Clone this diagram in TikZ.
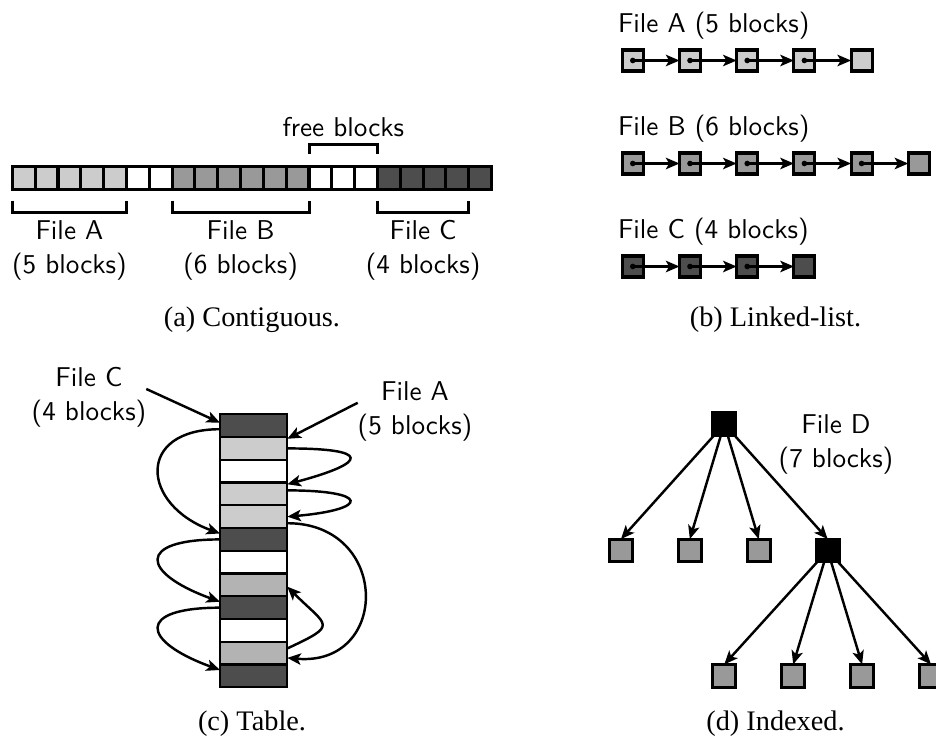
\documentclass[tikz,border=0pt]{standalone}
\usepackage{fontspec}
\newfontfamily\capfont{Liberation Serif}
\usetikzlibrary{positioning, calc, arrows.meta}

\begin{document}
\begin{tikzpicture}[x=0.3676pt,y=0.3676pt,
  blockCell/.style={draw=black,line width=1.15pt,minimum size=8.39pt,inner sep=0pt,outer sep=0pt},
  listBox/.style={draw=black,line width=1.15pt,minimum size=7.72pt,inner sep=0pt,outer sep=0pt},
  tabRow/.style={draw=black,line width=0.85pt,minimum width=24.74pt,minimum height=8.36pt,inner sep=0pt,outer sep=0pt},
  braceLine/.style={draw=black,line width=1.1pt},
  ptrArrow/.style={line width=0.9pt,-{Stealth[length=5pt,width=4.2pt,inset=1.2pt]}},
  sansLabel/.style={font=\sffamily\fontsize{10}{12.5}\selectfont,align=center,inner sep=0pt,outer sep=0pt},
  capText/.style={font=\capfont\fontsize{10.4}{12}\selectfont,inner sep=0pt,anchor=base}]
\definecolor{liteColor}{RGB}{204,204,204}
\definecolor{midColor}{RGB}{153,153,153}
\definecolor{tableColor}{RGB}{179,179,179}
\definecolor{darkColor}{RGB}{77,77,77}
\path[use as bounding box] (0,0) rectangle (936,735);

% (a) contiguous
\foreach \c [count=\i from 0] in {liteColor,liteColor,liteColor,liteColor,liteColor,white,white,midColor,midColor,midColor,midColor,midColor,midColor,white,white,white,darkColor,darkColor,darkColor,darkColor,darkColor}
  \node[blockCell,fill=\c] (a\i) at ({23.76+22.82*\i},557.3) {};

\draw[braceLine] (a0.south west) ++(0,-11.6) -- ++(0,-11.3) -| ($(a4.south east)+(0,-11.6)$);
\draw[braceLine] (a7.south west) ++(0,-11.6) -- ++(0,-11.3) -| ($(a12.south east)+(0,-11.6)$);
\draw[braceLine] (a16.south west) ++(0,-11.6) -- ++(0,-11.3) -| ($(a19.south east)+(0,-11.6)$);
\draw[braceLine] (a13.north west) ++(0,12.3) -- ++(0,9.3) -| ($(a15.north east)+(0,12.3)$);

\node[sansLabel,anchor=north] (fileA) at (69.4,514.6) {File A\\(5 blocks)};
\node[sansLabel,anchor=north] (fileB) at (240.6,514.6) {File B\\(6 blocks)};
\node[sansLabel,anchor=north] (fileC) at (423.1,514.6) {File C\\(4 blocks)};
\node[sansLabel,anchor=base] (free) at (343.3,598.5) {free blocks};
\node[capText] (capA) at (252,408.3) {(a) Contiguous.};

% (b) linked list
\foreach \n/\k/\c/\y in {A/5/liteColor/674.5, B/6/midColor/571.5, C/4/darkColor/468.5} {
  \foreach \j in {1,...,\k}
    \node[listBox,fill=\c] (list\n\j) at ({632.8+57.2*(\j-1)},\y) {};
  \pgfmathtruncatemacro\last{\k-1}
  \foreach \j [evaluate=\j as \m using int(\j+1)] in {1,...,\last} {
    \fill (list\n\j.center) circle (2.8);
    \draw[ptrArrow] (list\n\j.center) -- (list\n\m);
  }
}
\node[sansLabel,anchor=base west] (nameA) at (618,703) {File A (5 blocks)};
\node[sansLabel,anchor=base west] (nameB) at (618,600) {File B (6 blocks)};
\node[sansLabel,anchor=base west] (nameC) at (618,497) {File C (4 blocks)};
\node[capText] (capB) at (775.5,408.3) {(b) Linked-list.};

% (c) table
\foreach \c [count=\i] in {darkColor,liteColor,white,liteColor,liteColor,darkColor,white,tableColor,darkColor,white,tableColor,darkColor}
  \node[tabRow,fill=\c] (r\i) at (253.65,{320.7-22.75*(\i-0.5)}) {};

\node[sansLabel,anchor=north] (tabC) at (89,368) {File C\\(4 blocks)};
\node[sansLabel,anchor=north] (tabA) at (415,353) {File A\\(5 blocks)};
\draw[ptrArrow] (tabC.8) -- (r1.175);
\draw[ptrArrow] (tabA.171) -- (r2.16);

\draw[ptrArrow] (r1.186) to[out=180,in=160,distance=31pt] (r6.170);
\draw[ptrArrow] (r6.west) to[out=180,in=160,distance=31pt] (r9.170);
\draw[ptrArrow] (r9.west) to[out=180,in=160,distance=31pt] (r12.170);
\draw[ptrArrow] (r2.east) to[out=0,in=15,distance=31pt] (r4.16);
\draw[ptrArrow] (r4.6) to[out=0,in=5,distance=30.5pt] (r5.east);
\draw[ptrArrow] (r5.349) to[out=0,in=-5,distance=38pt] (r11.352);
\draw[ptrArrow] (r11.8) to[out=25,in=-45,distance=21pt] (r8.357);
\node[capText] (capC) at (252,5) {(c) Table.};

% (d) indexed
\node[blockCell,fill=black] (root) at (724.3,311) {};
\foreach \c [count=\i from 0] in {midColor,midColor,midColor,black}
  \node[blockCell,fill=\c] (top\i) at ({620.95+68.9*\i},184.5) {};
\foreach \i in {0,...,3}
  \node[blockCell,fill=midColor] (low\i) at ({724.3+68.9*\i},59.2) {};
\foreach \i in {0,...,3} {
  \draw[ptrArrow] (root) -- (top\i.north);
  \draw[ptrArrow] (top3) -- (low\i.north);
}
\node[sansLabel,anchor=north] (fileD) at (836,320.4) {File D\\(7 blocks)};
\node[capText] (capD) at (775.5,5) {(d) Indexed.};
\end{tikzpicture}
\end{document}
